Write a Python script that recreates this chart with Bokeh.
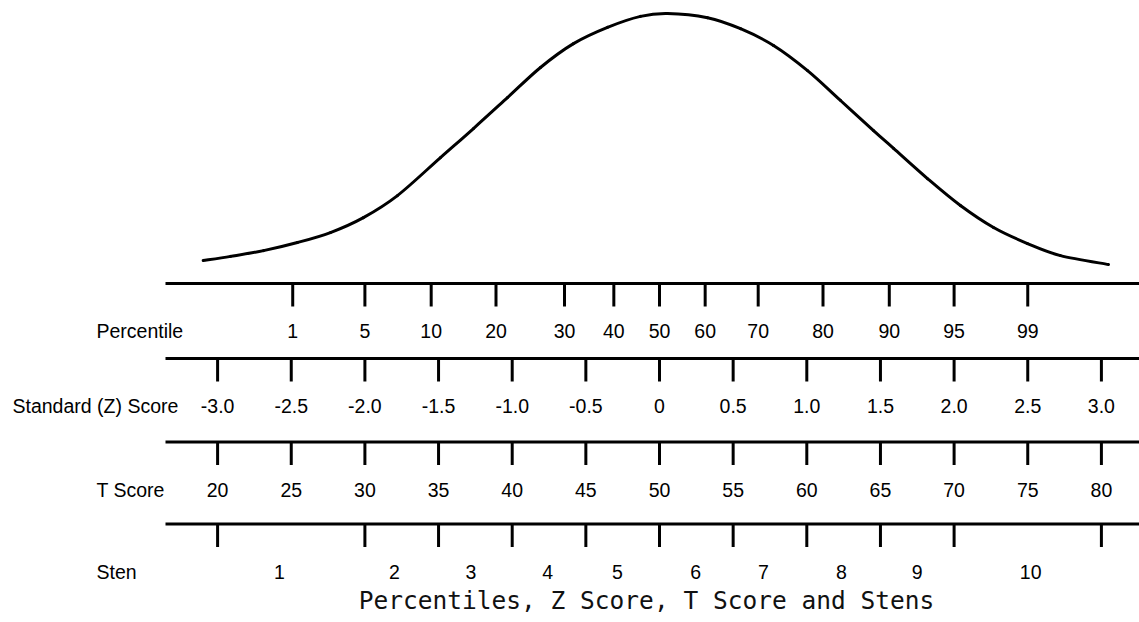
from bokeh.plotting import figure
from bokeh.models import Range1d
from bokeh.embed import file_html
from bokeh.resources import INLINE
from bokeh.core.properties import value

# ---------------- data ----------------
# bell curve: position on the Z scale and relative height (peak = 1)
curve_z = [-3.098, -2.912, -2.688, -2.458, -2.234, -2.010, -1.779, -1.487, -1.263,
           -1.032, -0.808, -0.584, -0.353, -0.129, 0.054, 0.326, 0.550, 0.774,
           1.005, 1.229, 1.453, 1.589, 1.819, 2.043, 2.268, 2.498, 2.722, 3.048]
curve_h = [0.057, 0.073, 0.095, 0.126, 0.164, 0.221, 0.305, 0.450, 0.561,
           0.679, 0.794, 0.885, 0.947, 0.989, 1.000, 0.984, 0.942, 0.878,
           0.782, 0.668, 0.553, 0.485, 0.370, 0.267, 0.183, 0.122, 0.076, 0.042]

row_names = ["Percentile", "Standard (Z) Score", "T Score", "Sten"]

pct_labels = ["1", "5", "10", "20", "30", "40", "50", "60", "70", "80", "90", "95", "99"]
pct_z = [-2.49, -2.0, -1.55, -1.11, -0.645, -0.31, 0.0, 0.31, 0.67, 1.11, 1.56, 2.0, 2.5]

z_labels = ["-3.0", "-2.5", "-2.0", "-1.5", "-1.0", "-0.5", "0", "0.5", "1.0", "1.5", "2.0", "2.5", "3.0"]
z_values = [-3.0, -2.5, -2.0, -1.5, -1.0, -0.5, 0.0, 0.5, 1.0, 1.5, 2.0, 2.5, 3.0]

t_labels = ["20", "25", "30", "35", "40", "45", "50", "55", "60", "65", "70", "75", "80"]
t_values = [20, 25, 30, 35, 40, 45, 50, 55, 60, 65, 70, 75, 80]

sten_bounds_z = [-3.0, -2.0, -1.5, -1.0, -0.5, 0.0, 0.5, 1.0, 1.5, 2.0, 3.0]
sten_labels = ["1", "2", "3", "4", "5", "6", "7", "8", "9", "10"]
sten_label_z = [-2.58, -1.80, -1.28, -0.76, -0.285, 0.245, 0.705, 1.235, 1.75, 2.52]

title_text = "Percentiles, Z Score, T Score and Stens"

# ---------------- layout ----------------
W, H = 1139, 622
Z0_PX, PX_PER_Z = 659.0, 147.3


def zx(px):
    return (px - Z0_PX) / PX_PER_Z


BASE_Y, PEAK_H = 275.0, 262.0
ROW_Y = [283.0, 358.0, 441.5, 523.5]
TICK_LEN = 23.0
LABEL_DY = 47.5
LINE_X0 = zx(165)
LINE_X1 = zx(1160)
LBL_FONT = value("Liberation Sans")
LBL_SIZE = "19.5px"

p = figure(width=W, height=H, x_range=Range1d(zx(0), zx(W)),
           y_range=Range1d(H, 0), output_backend="svg", toolbar_location=None,
           min_border=0, x_axis_location=None, y_axis_location=None)
p.grid.visible = False
p.outline_line_color = None
p.background_fill_color = "white"
p.border_fill_color = "white"

# bell curve: smooth Catmull-Rom spline through the read points
cy = [BASE_Y - PEAK_H * h for h in curve_h]
n = len(curve_z)
bx0, by0, bx1, by1, c0x, c0y, c1x, c1y = [], [], [], [], [], [], [], []
for i in range(n - 1):
    pm = max(i - 1, 0)
    pp = min(i + 2, n - 1)
    bx0.append(curve_z[i]); by0.append(cy[i])
    bx1.append(curve_z[i + 1]); by1.append(cy[i + 1])
    c0x.append(curve_z[i] + (curve_z[i + 1] - curve_z[pm]) / 6.0)
    c0y.append(cy[i] + (cy[i + 1] - cy[pm]) / 6.0)
    c1x.append(curve_z[i + 1] - (curve_z[pp] - curve_z[i]) / 6.0)
    c1y.append(cy[i + 1] - (cy[pp] - cy[i]) / 6.0)
p.bezier(x0=bx0, y0=by0, x1=bx1, y1=by1, cx0=c0x, cy0=c0y, cx1=c1x, cy1=c1y,
         line_color="black", line_width=3, line_cap="round")

# row lines
p.segment(x0=[LINE_X0] * 4, y0=ROW_Y, x1=[LINE_X1] * 4, y1=ROW_Y,
          line_color="black", line_width=3)

t_as_z = [(t - 50) / 10 for t in t_values]
tick_sets = [pct_z, z_values, t_as_z, sten_bounds_z]
label_sets = [(pct_z, pct_labels), (z_values, z_labels),
              (t_as_z, t_labels), (sten_label_z, sten_labels)]

for ry, ticks, (lx, lt) in zip(ROW_Y, tick_sets, label_sets):
    p.segment(x0=ticks, y0=[ry] * len(ticks), x1=ticks, y1=[ry + TICK_LEN] * len(ticks),
              line_color="black", line_width=3)
    p.text(x=lx, y=[ry + LABEL_DY] * len(lx), text=lt, text_align="center",
           text_baseline="middle", text_font=LBL_FONT, text_font_size=LBL_SIZE,
           text_color="#000000")

# row names
name_x = [zx(96), zx(12), zx(96), zx(96)]
p.text(x=name_x, y=[ry + LABEL_DY for ry in ROW_Y], text=row_names, text_align="left",
       text_baseline="middle", text_font=LBL_FONT, text_font_size=LBL_SIZE,
       text_color="#000000")

# title
p.text(x=[zx(646)], y=[600], text=[title_text], text_align="center",
       text_baseline="middle", text_font=value("DejaVu Sans Mono"),
       text_font_size="24.5px", text_color="#111111")

open("out.html", "w").write(file_html(p, INLINE))
